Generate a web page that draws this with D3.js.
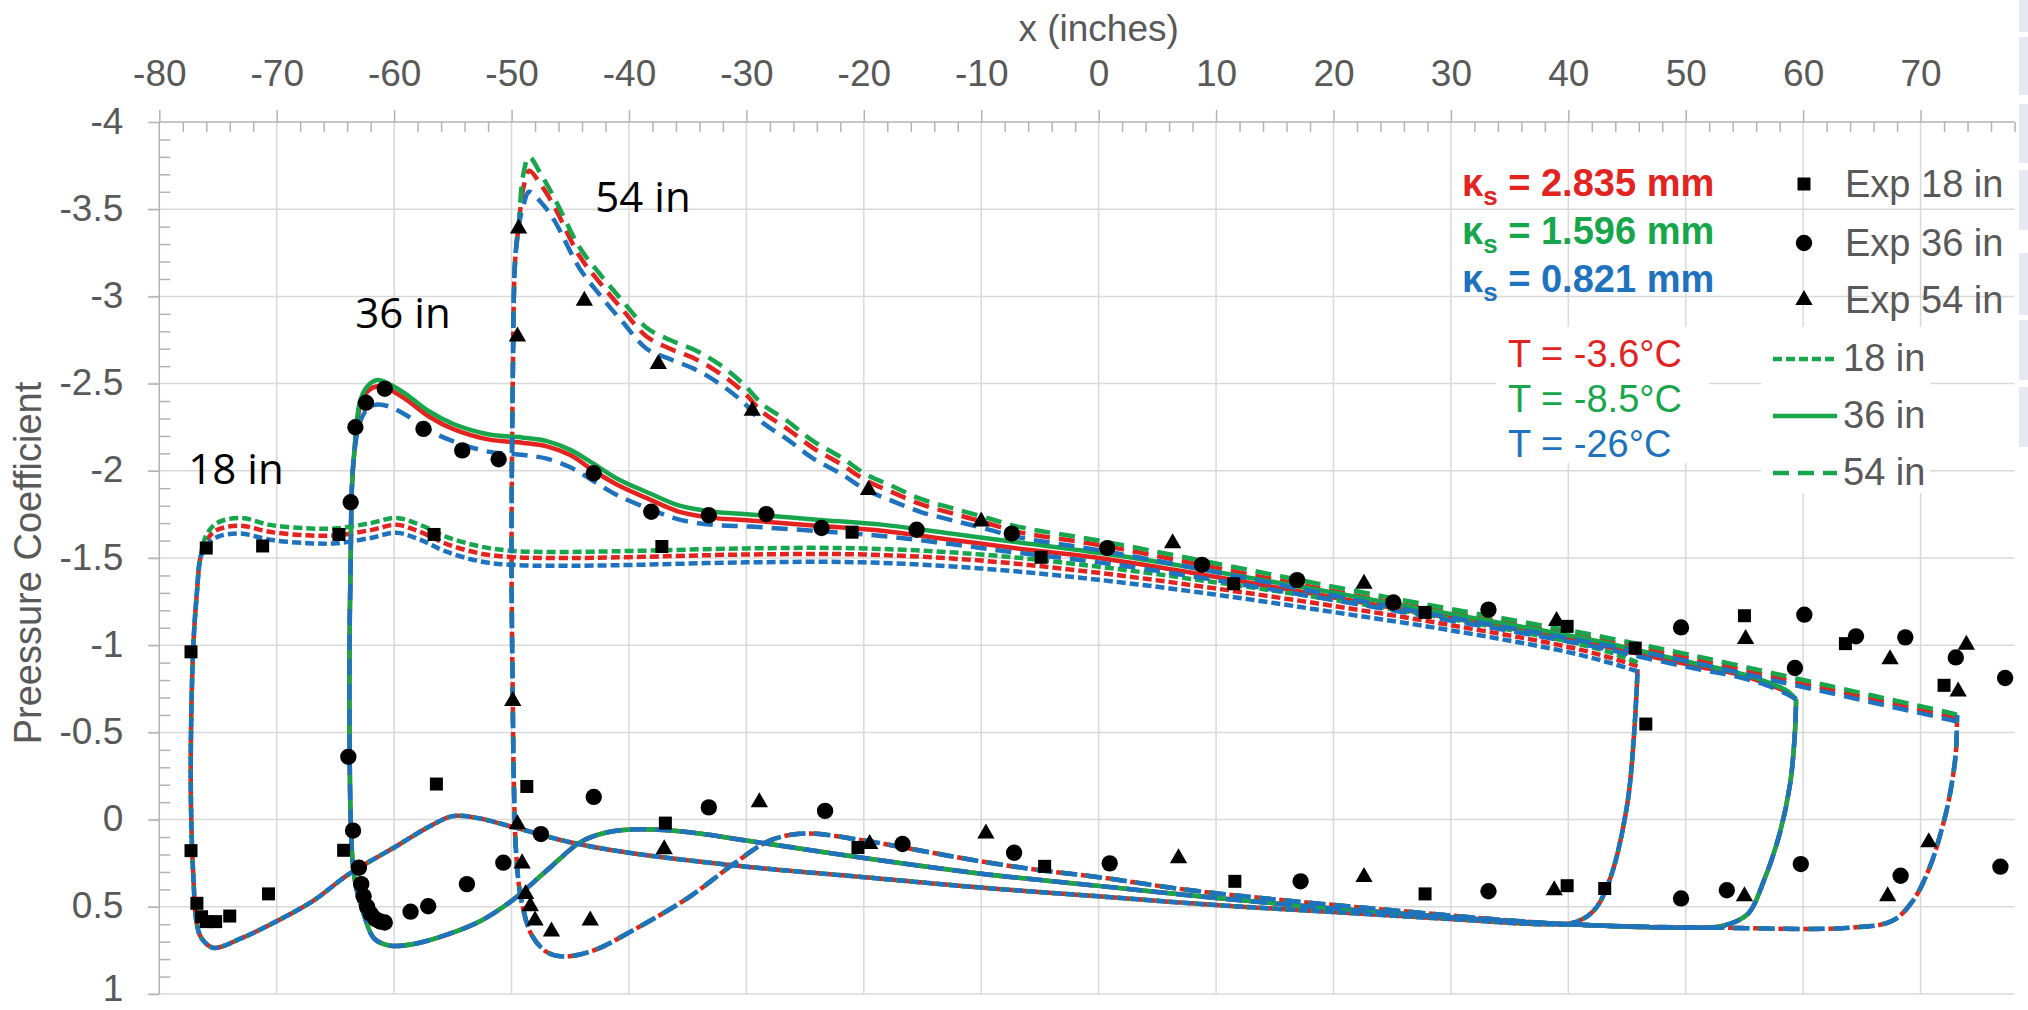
<!DOCTYPE html>
<html>
<head>
<meta charset="utf-8">
<script src="https://cdn.jsdelivr.net/npm/d3@7"></script>
<style>
  html, body { margin: 0; padding: 0; background: #ffffff; }
  svg { display: block; }
</style>
</head>
<body>
<svg id="chart" width="2028" height="1010"></svg>
<script>
// ---------------- axes ----------------
const xTickValues = [-80, -70, -60, -50, -40, -30, -20, -10, 0, 10, 20, 30, 40, 50, 60, 70];
const yTickValues = [-4, -3.5, -3, -2.5, -2, -1.5, -1, -0.5, 0, 0.5, 1];
const xTickLabels = ["-80", "-70", "-60", "-50", "-40", "-30", "-20", "-10", "0", "10", "20", "30", "40", "50", "60", "70"];
const yTickLabels = ["-4", "-3.5", "-3", "-2.5", "-2", "-1.5", "-1", "-0.5", "0", "0.5", "1"];

// ---------------- series labels ----------------
const roughnessLabels = ["2.835 mm", "1.596 mm", "0.821 mm"];
const temperatureLabels = ["T = -3.6°C", "T = -8.5°C", "T = -26°C"];
const stationLabels = ["18 in", "36 in", "54 in"];
const expLabels = ["Exp 18 in", "Exp 36 in", "Exp 54 in"];

// ---------------- CFD, station 18 in ----------------
// leading edge, from stagnation point up to the suction side
const le18 = [[-75.4,0.735],[-76.4,0.68],[-76.8,0.6],[-77.1,0.33],[-77.3,-0.08],[-77.3,-0.49],[-77.1,-1.0],[-76.8,-1.3],[-76.5,-1.5]];
const upper18Red = [[-76.5,-1.5],[-76.0,-1.6],[-75.1,-1.66],[-73.1,-1.685],[-70.6,-1.65],[-67.4,-1.63],[-64.9,-1.63],[-62,-1.66],[-59.8,-1.69],[-57.8,-1.65],[-55.5,-1.58],[-52.6,-1.525],[-49.8,-1.505],[-45.5,-1.5],[-40,-1.505],[-30,-1.52],[-20,-1.52],[-10,-1.485],[0,-1.415],[10,-1.325],[20,-1.225],[30,-1.115],[40,-0.99],[44,-0.92],[45.9,-0.88]];
const upper18Green = [[-76.5,-1.5],[-76.0,-1.63],[-75.1,-1.7],[-73.1,-1.73],[-70.6,-1.69],[-67.4,-1.67],[-64.9,-1.67],[-62,-1.7],[-59.8,-1.73],[-57.8,-1.69],[-55.5,-1.62],[-52.6,-1.565],[-49.8,-1.54],[-45.5,-1.535],[-40,-1.54],[-30,-1.555],[-20,-1.555],[-10,-1.52],[0,-1.45],[10,-1.36],[20,-1.26],[30,-1.15],[40,-1.02],[44,-0.95],[45.9,-0.9]];
const upper18Blue = [[-76.5,-1.5],[-76.0,-1.57],[-75.1,-1.62],[-73.1,-1.64],[-70.6,-1.605],[-67.4,-1.585],[-64.9,-1.585],[-62,-1.615],[-59.8,-1.645],[-57.8,-1.605],[-55.5,-1.535],[-52.6,-1.48],[-49.8,-1.46],[-45.5,-1.455],[-40,-1.46],[-30,-1.475],[-20,-1.475],[-10,-1.44],[0,-1.375],[10,-1.29],[20,-1.19],[30,-1.085],[40,-0.96],[44,-0.89],[45.9,-0.85]];
const lower18 = [[-75.4,0.735],[-73,0.68],[-71.1,0.62],[-67,0.47],[-63.8,0.31],[-60,0.16],[-57,0.04],[-55,-0.02],[-53,-0.01],[-50,0.04],[-45,0.13],[-40,0.19],[-30,0.27],[-20,0.33],[-10,0.39],[0,0.44],[10,0.49],[20,0.53],[30,0.57],[38,0.6],[40.5,0.59],[42.2,0.52],[43.6,0.33],[45,-0.08],[45.6,-0.49],[45.9,-0.86]];

// ---------------- CFD, station 36 in ----------------
const le36 = [[-60.3,0.723],[-61.7,0.682],[-62.6,0.54],[-63.2,0.4],[-63.5,0.27],[-63.7,0.0],[-63.8,-0.5],[-63.8,-1.0],[-63.7,-1.5],[-63.6,-1.9],[-63.4,-2.1]];
const upper36Red = [[-63.4,-2.1],[-62.9,-2.37],[-62.2,-2.46],[-61.4,-2.485],[-60.5,-2.47],[-59,-2.41],[-57,-2.31],[-55,-2.24],[-52,-2.18],[-49,-2.16],[-47,-2.14],[-45,-2.09],[-43,-2.0],[-41,-1.92],[-38.2,-1.835],[-35.7,-1.765],[-32.8,-1.73],[-29.7,-1.715],[-24,-1.685],[-18.3,-1.655],[-12.6,-1.605],[-6.9,-1.555],[0,-1.5],[8.4,-1.41],[25,-1.215],[42,-1.01],[46,-0.95],[51.2,-0.875],[54,-0.84],[56.9,-0.78],[58.6,-0.73],[59.4,-0.69]];
const upper36Green = [[-63.4,-2.1],[-62.9,-2.4],[-62.2,-2.49],[-61.4,-2.52],[-60.5,-2.5],[-59,-2.44],[-57,-2.34],[-55,-2.27],[-52,-2.21],[-49,-2.19],[-47,-2.17],[-45,-2.12],[-43,-2.04],[-41,-1.955],[-38.2,-1.87],[-35.7,-1.8],[-32.8,-1.765],[-29.7,-1.75],[-24,-1.72],[-18.3,-1.69],[-12.6,-1.64],[-6.9,-1.59],[0,-1.53],[8.4,-1.44],[25,-1.24],[42,-1.03],[46,-0.97],[51.2,-0.89],[54,-0.85],[56.9,-0.79],[58.6,-0.74],[59.4,-0.69]];
const upper36Blue = [[-63.4,-2.1],[-62.9,-2.28],[-62.2,-2.36],[-61.4,-2.38],[-60.5,-2.37],[-59,-2.32],[-57,-2.23],[-55,-2.17],[-52,-2.11],[-49,-2.09],[-47,-2.07],[-45,-2.02],[-43,-1.94],[-41,-1.86],[-38.2,-1.78],[-35.7,-1.72],[-32.8,-1.69],[-29.7,-1.68],[-24,-1.655],[-18.3,-1.625],[-12.6,-1.58],[-6.9,-1.53],[0,-1.475],[8.4,-1.39],[25,-1.2],[42,-0.995],[46,-0.935],[51.2,-0.86],[54,-0.825],[56.9,-0.77],[58.6,-0.72],[59.4,-0.69]];
const lower36 = [[-60.3,0.723],[-58.3,0.713],[-55.5,0.66],[-52.6,0.58],[-49.8,0.456],[-47,0.292],[-44.1,0.128],[-42.1,0.077],[-39.8,0.057],[-37,0.06],[-34,0.08],[-30,0.12],[-20,0.22],[-10,0.31],[0,0.38],[10,0.45],[20,0.51],[30,0.56],[40,0.6],[50,0.62],[53.1,0.61],[55.3,0.54],[56.6,0.36],[58,0.08],[58.9,-0.21],[59.3,-0.5],[59.4,-0.69]];

// ---------------- CFD, station 54 in ----------------
const le54 = [[-45.5,0.785],[-47,0.76],[-48.3,0.66],[-49.2,0.45],[-49.6,0.2],[-49.8,-0.2],[-49.9,-0.7],[-50,-1.5],[-49.9,-2.5],[-49.7,-3.2],[-49.4,-3.4]];
const upper54Red = [[-49.4,-3.4],[-49.0,-3.62],[-48.5,-3.72],[-47.5,-3.64],[-46.4,-3.52],[-44.2,-3.23],[-42.5,-3.08],[-40.5,-2.92],[-38.5,-2.77],[-36.5,-2.7],[-34.3,-2.64],[-32.3,-2.56],[-30.3,-2.455],[-28.6,-2.335],[-26.6,-2.245],[-24.3,-2.13],[-22,-2.04],[-19.8,-1.945],[-17.5,-1.875],[-15.2,-1.81],[-12.7,-1.76],[-10,-1.71],[-6.9,-1.65],[0,-1.575],[8.4,-1.465],[25,-1.245],[42,-1.04],[50,-0.93],[58.7,-0.8],[66,-0.69],[72.6,-0.59],[73.1,-0.58]];
const upper54Green = [[-49.4,-3.4],[-49.0,-3.7],[-48.5,-3.8],[-47.5,-3.7],[-46.4,-3.57],[-44.2,-3.28],[-42.5,-3.13],[-40.5,-2.97],[-38.5,-2.82],[-36.5,-2.75],[-34.3,-2.69],[-32.3,-2.61],[-30.3,-2.5],[-28.6,-2.38],[-26.6,-2.29],[-24.3,-2.17],[-22,-2.08],[-19.8,-1.98],[-17.5,-1.91],[-15.2,-1.84],[-12.7,-1.79],[-10,-1.74],[-6.9,-1.68],[0,-1.6],[8.4,-1.49],[25,-1.27],[42,-1.06],[50,-0.95],[58.7,-0.82],[66,-0.71],[72.6,-0.61],[73.1,-0.6]];
const upper54Blue = [[-49.4,-3.4],[-49.0,-3.52],[-48.5,-3.6],[-47.5,-3.54],[-46.4,-3.44],[-44.2,-3.16],[-42.5,-3.01],[-40.5,-2.85],[-38.5,-2.7],[-36.5,-2.64],[-34.3,-2.58],[-32.3,-2.5],[-30.3,-2.395],[-28.6,-2.275],[-26.6,-2.185],[-24.3,-2.07],[-22,-1.985],[-19.8,-1.89],[-17.5,-1.825],[-15.2,-1.765],[-12.7,-1.72],[-10,-1.675],[-6.9,-1.62],[0,-1.545],[8.4,-1.44],[25,-1.22],[42,-1.015],[50,-0.91],[58.7,-0.78],[66,-0.67],[72.6,-0.57],[73.1,-0.56]];
const lower54 = [[-45.5,0.785],[-43,0.75],[-39.8,0.64],[-35,0.45],[-31,0.25],[-28,0.12],[-25,0.08],[-20,0.12],[-15,0.18],[-10,0.24],[-5,0.29],[0,0.33],[8.4,0.41],[25,0.52],[40,0.6],[53,0.62],[64,0.62],[67.6,0.58],[69.4,0.46],[70.8,0.27],[71.7,0.08],[72.4,-0.11],[73,-0.38],[73.1,-0.6]];

// ---------------- experiment ----------------
const exp18 = [[-77.3,-0.962],[-76.0,-1.557],[-71.2,-1.569],[-64.7,-1.635],[-56.6,-1.635],[-37.2,-1.566],[-21.0,-1.648],[-4.9,-1.504],[11.5,-1.352],[27.8,-1.188],[39.9,-1.108],[45.7,-0.983],[46.6,-0.548],[55.0,-1.169],[63.6,-1.009],[72.0,-0.77],
  [-77.3,0.178],[-76.8,0.48],[-76.4,0.557],[-76.0,0.585],[-75.2,0.585],[-74.0,0.553],[-70.7,0.426],[-64.3,0.176],[-56.4,-0.204],[-48.7,-0.19],[-36.9,0.02],[-20.5,0.16],[-4.6,0.268],[11.6,0.354],[27.8,0.426],[39.9,0.379],[43.1,0.395]];
const exp36 = [[-63.7,-1.82],[-63.3,-2.25],[-62.4,-2.39],[-60.8,-2.47],[-57.5,-2.24],[-54.2,-2.117],[-51.1,-2.066],[-43.0,-1.986],[-38.1,-1.765],[-33.2,-1.745],[-28.3,-1.752],[-23.6,-1.672],[-15.5,-1.662],[-7.4,-1.64],[0.73,-1.557],[8.8,-1.461],[16.9,-1.373],[25.1,-1.245],[33.2,-1.204],[49.6,-1.102],[59.3,-0.869],[60.1,-1.175],[64.5,-1.051],[68.7,-1.045],[73.0,-0.93],[77.2,-0.812],
  [-63.9,-0.36],[-63.5,0.063],[-63.0,0.276],[-62.8,0.37],[-62.6,0.44],[-62.3,0.5],[-62.0,0.54],[-61.6,0.57],[-61.2,0.584],[-60.8,0.59],[-58.6,0.528],[-57.1,0.497],[-53.8,0.37],[-50.7,0.247],[-47.5,0.083],[-43.0,-0.13],[-33.2,-0.07],[-23.3,-0.05],[-16.7,0.14],[-7.2,0.19],[0.94,0.251],[17.2,0.354],[33.2,0.411],[49.6,0.452],[53.5,0.405],[59.8,0.255],[68.3,0.322],[76.8,0.27]];
const exp54 = [[-49.4,-3.39],[-49.5,-2.77],[-43.8,-2.975],[-37.5,-2.613],[-29.5,-2.345],[-19.6,-1.89],[-10.0,-1.709],[6.3,-1.584],[22.6,-1.352],[39.0,-1.139],[55.1,-1.035],[67.4,-0.92],[73.9,-1.003],[73.2,-0.735],[-49.9,-0.68],
  [-49.5,0.026],[-49.1,0.251],[-48.8,0.426],[-48.4,0.497],[-48.0,0.579],[-46.6,0.641],[-43.3,0.579],[-37.0,0.17],[-28.9,-0.1],[-19.5,0.14],[-9.6,0.08],[6.8,0.221],[22.6,0.329],[38.8,0.405],[55.0,0.44],[67.2,0.44],[70.7,0.13]];

// ---------------- styling ----------------
const RED = "#e3231f", GREEN = "#17a64b", BLUE = "#1f72bd";
const AXIS_GREY = "#595959", LINE_GREY = "#b3b3b3", GRID = "#d9d9d9";
const DASH_SHORT = "9,4", DASH_LONG = "16,9";
const FONT = "'Liberation Sans', Arial, sans-serif";

const svg = d3.select("#chart");
const x = d3.scaleLinear().domain([-80, 78]).range([159.3, 2014.5]);
const y = d3.scaleLinear().domain([-4, 1]).range([122, 994]);

// grey strip on the far right
const stripBlocks = [[0, 32], [37, 95], [104, 163], [170, 230], [253, 315], [320, 380], [387, 447]];
svg.selectAll("rect.strip").data(stripBlocks).join("rect")
  .attr("x", 2019).attr("width", 9)
  .attr("y", d => d[0]).attr("height", d => d[1] - d[0])
  .attr("fill", "#e6e9f1");

// grid
const grid = svg.append("g");
grid.selectAll("line.v").data(xTickValues.slice(1)).join("line")
  .attr("x1", d => x(d)).attr("x2", d => x(d))
  .attr("y1", y(-4)).attr("y2", y(1))
  .attr("stroke", GRID).attr("stroke-width", 1.5);
grid.selectAll("line.h").data(yTickValues.slice(1)).join("line")
  .attr("x1", x(-80) - 11).attr("x2", x(78))
  .attr("y1", d => y(d)).attr("y2", d => y(d))
  .attr("stroke", GRID).attr("stroke-width", 1.5);

// top x axis
const xAxis = svg.append("g").attr("transform", `translate(0,${y(-4)})`)
  .call(d3.axisTop(x).tickValues(xTickValues).tickSize(12).tickPadding(24)
    .tickFormat((d, i) => xTickLabels[i]));
const xMinor = svg.append("g").attr("transform", `translate(0,${y(-4)})`)
  .call(d3.axisBottom(x).tickValues(d3.range(-78, 79, 2).filter(v => v % 10 !== 0)).tickSize(10).tickFormat(""));
xMinor.select(".domain").remove();

// left y axis
const yAxis = svg.append("g").attr("transform", `translate(${x(-80)},0)`)
  .call(d3.axisLeft(y).tickValues(yTickValues).tickSize(11).tickPadding(25)
    .tickFormat((d, i) => yTickLabels[i]));
const yMinor = svg.append("g").attr("transform", `translate(${x(-80)},0)`)
  .call(d3.axisRight(y).tickValues(d3.range(-39, 10, 1).filter(v => v % 5 !== 0).map(v => v / 10)).tickSize(11).tickFormat(""));
yMinor.select(".domain").remove();

[xAxis, xMinor, yAxis, yMinor].forEach(g => {
  g.selectAll("line").attr("stroke", LINE_GREY).attr("stroke-width", 1.5);
  g.selectAll(".domain").attr("stroke", LINE_GREY).attr("stroke-width", 1.5);
  g.selectAll("text").attr("fill", AXIS_GREY)
    .style("font-family", FONT).style("font-size", "37px");
});
// the bottom label sits right at the lower edge of the page
yAxis.selectAll("text").attr("dy", d => d === 1 ? "0.18em" : "0.3em");
xAxis.select(".domain").attr("d", `M${x(-80)},0H${x(78)}`);
yAxis.select(".domain").attr("d", `M0,${y(-4)}V${y(1)}`);

svg.append("text").attr("x", x(0)).attr("y", 41).attr("text-anchor", "middle")
  .attr("fill", AXIS_GREY).style("font-family", FONT).style("font-size", "37px")
  .text("x (inches)");
svg.append("text").attr("transform", `translate(41,563) rotate(-90)`).attr("text-anchor", "middle")
  .attr("fill", AXIS_GREY).style("font-family", FONT).style("font-size", "38px")
  .text("Preessure Coefficient");

// ---------------- CFD curves ----------------
const line = d3.line().x(d => x(d[0])).y(d => y(d[1])).curve(d3.curveCatmullRom.alpha(0.5));
const loop = (upper, le, lower) => [...upper].reverse().concat([...le].reverse().slice(1), lower.slice(1));

const curves = [
  { pts: loop(upper18Red, le18, lower18), color: RED, dash: DASH_SHORT },
  { pts: loop(upper36Red, le36, lower36), color: RED, dash: null },
  { pts: loop(upper54Red, le54, lower54), color: RED, dash: DASH_LONG },
  { pts: loop(upper18Green, le18, lower18), color: GREEN, dash: DASH_SHORT },
  { pts: loop(upper36Green, le36, lower36), color: GREEN, dash: null },
  { pts: loop(upper54Green, le54, lower54), color: GREEN, dash: DASH_LONG },
  { pts: loop(upper18Blue, le18, lower18), color: BLUE, dash: DASH_SHORT },
  { pts: loop(upper36Blue, le36, lower36), color: BLUE, dash: DASH_LONG },
  { pts: loop(upper54Blue, le54, lower54), color: BLUE, dash: DASH_LONG }
];
svg.append("g").selectAll("path").data(curves).join("path")
  .attr("d", d => line(d.pts))
  .attr("fill", "none").attr("stroke", d => d.color).attr("stroke-width", 4.5)
  .attr("stroke-dasharray", d => d.dash).attr("stroke-linejoin", "round");

// ---------------- experimental markers ----------------
const symSquare = d3.symbol().type(d3.symbolSquare).size(169);
const symCircle = d3.symbol().type(d3.symbolCircle).size(210);
const symTriangle = d3.symbol().type(d3.symbolTriangle).size(130);
const markers = svg.append("g").attr("fill", "#000");
markers.selectAll("path.sq").data(exp18).join("path").attr("d", symSquare)
  .attr("transform", d => `translate(${x(d[0])},${y(d[1])})`);
markers.selectAll("path.ci").data(exp36).join("path").attr("d", symCircle)
  .attr("transform", d => `translate(${x(d[0])},${y(d[1])})`);
markers.selectAll("path.tr").data(exp54).join("path").attr("d", symTriangle)
  .attr("transform", d => `translate(${x(d[0])},${y(d[1])})`);

// ---------------- station annotations ----------------
const stationPos = [[236, 484], [403, 328], [643, 212]];
svg.selectAll("text.station").data(stationLabels).join("text")
  .attr("x", (d, i) => stationPos[i][0]).attr("y", (d, i) => stationPos[i][1])
  .attr("text-anchor", "middle").attr("fill", "#000")
  .style("font-family", "'Open Sans', 'Noto Sans', sans-serif").style("font-size", "42px")
  .text(d => d);

// ---------------- legend ----------------
const colors = [RED, GREEN, BLUE];
// white boxes behind the temperature block and the line-style key
svg.append("rect").attr("x", 1496).attr("y", 327).attr("width", 213).attr("height", 136).attr("fill", "#fff");
svg.append("rect").attr("x", 1761).attr("y", 327).attr("width", 169).attr("height", 166).attr("fill", "#fff");

const kBase = [196, 244, 292];
roughnessLabels.forEach((lab, i) => {
  const t = svg.append("text").attr("x", 1462).attr("y", kBase[i]).attr("fill", colors[i])
    .style("font-family", FONT).style("font-size", "38px").style("font-weight", "bold");
  t.append("tspan").text("κ");
  t.append("tspan").attr("dy", 9).style("font-size", "26px").text("s");
  t.append("tspan").attr("dy", -9).text(" = " + lab);
});
const tBase = [367, 412, 457];
temperatureLabels.forEach((lab, i) => {
  svg.append("text").attr("x", 1508).attr("y", tBase[i]).attr("fill", colors[i])
    .style("font-family", FONT).style("font-size", "38px").text(lab);
});

const expRowY = [184, 243, 300];
const expSyms = [symSquare, symCircle, symTriangle];
expLabels.forEach((lab, i) => {
  svg.append("path").attr("d", expSyms[i]()).attr("fill", "#000")
    .attr("transform", `translate(1804,${expRowY[i]})`);
  svg.append("text").attr("x", 1845).attr("y", expRowY[i] + 13).attr("fill", AXIS_GREY)
    .style("font-family", FONT).style("font-size", "38px").text(lab);
});

const keyRowY = [359, 416, 473];
const keyDash = [DASH_SHORT, null, DASH_LONG];
stationLabels.forEach((lab, i) => {
  svg.append("line").attr("x1", 1773).attr("x2", 1837).attr("y1", keyRowY[i]).attr("y2", keyRowY[i])
    .attr("stroke", GREEN).attr("stroke-width", 4.5).attr("stroke-dasharray", keyDash[i]);
  svg.append("text").attr("x", 1843).attr("y", keyRowY[i] + 12).attr("fill", AXIS_GREY)
    .style("font-family", FONT).style("font-size", "38px").text(lab);
});
</script>
</body>
</html>
